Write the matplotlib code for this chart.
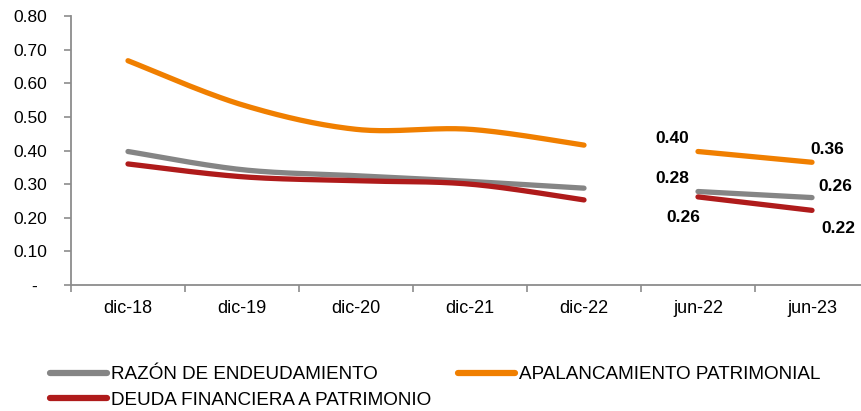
import numpy as np
import matplotlib
matplotlib.use("Agg")
import matplotlib.pyplot as plt
from matplotlib.ticker import FixedLocator

plt.rcParams['font.family'] = ['Liberation Sans', 'DejaVu Sans']

categories = ["dic-18", "dic-19", "dic-20", "dic-21", "dic-22", "jun-22", "jun-23"]
annual_idx = [0, 1, 2, 3, 4]
semi_idx = [5, 6]

razon_annual = [0.397, 0.343, 0.325, 0.308, 0.288]
apal_annual = [0.667, 0.536, 0.463, 0.463, 0.416]
deuda_annual = [0.360, 0.322, 0.310, 0.300, 0.253]

razon_semi = [0.278, 0.260]
apal_semi = [0.397, 0.365]
deuda_semi = [0.262, 0.222]

yticks = [0, 0.1, 0.2, 0.3, 0.4, 0.5, 0.6, 0.7, 0.8]
ytick_labels = ["-  ", "0.10", "0.20", "0.30", "0.40", "0.50", "0.60", "0.70", "0.80"]

series_names = ["RAZÓN DE ENDEUDAMIENTO", "APALANCAMIENTO PATRIMONIAL", "DEUDA FINANCIERA A PATRIMONIO"]
colors = ["#858585", "#F07F00", "#AF1B1B"]


def smooth(xs, ys, n=40):
    xs = np.asarray(xs, float)
    ys = np.asarray(ys, float)
    if len(xs) < 3:
        return xs, ys
    px = np.concatenate([[xs[0]], xs, [xs[-1]]])
    py = np.concatenate([[ys[0]], ys, [ys[-1]]])
    ox, oy = [], []
    for i in range(1, len(px) - 2):
        p0x, p1x, p2x, p3x = px[i - 1], px[i], px[i + 1], px[i + 2]
        p0y, p1y, p2y, p3y = py[i - 1], py[i], py[i + 1], py[i + 2]
        c1x = p1x + (p2x - p0x) / 6
        c1y = p1y + (p2y - p0y) / 6
        c2x = p2x - (p3x - p1x) / 6
        c2y = p2y - (p3y - p1y) / 6
        t = np.linspace(0, 1, n)
        bx = (1 - t) ** 3 * p1x + 3 * (1 - t) ** 2 * t * c1x + 3 * (1 - t) * t ** 2 * c2x + t ** 3 * p2x
        by = (1 - t) ** 3 * p1y + 3 * (1 - t) ** 2 * t * c1y + 3 * (1 - t) * t ** 2 * c2y + t ** 3 * p2y
        ox.extend(bx)
        oy.extend(by)
    return np.array(ox), np.array(oy)


fig = plt.figure(figsize=(8.61, 4.11), dpi=100)
ax = fig.add_axes([71 / 861, (411 - 285) / 411, (869 - 71) / 861, (285 - 16) / 411])

annual = [razon_annual, apal_annual, deuda_annual]
semi = [razon_semi, apal_semi, deuda_semi]
lw = 3.8
handles = []
for name, col, a, s in zip(series_names, colors, annual, semi):
    sx, sy = smooth(annual_idx, a)
    h, = ax.plot(sx, sy, color=col, lw=lw, solid_capstyle='round', label=name)
    ax.plot(semi_idx, s, color=col, lw=lw, solid_capstyle='round')
    handles.append(h)

# data labels for semiannual points
lab_kw = dict(fontsize=12.5, fontweight='bold', color='black', ha='center', va='center',
              textcoords='offset pixels')
ax.annotate(f"{apal_semi[0]:.2f}", (semi_idx[0], apal_semi[0]), xytext=(-26, 13), **lab_kw)
ax.annotate(f"{apal_semi[1]:.2f}", (semi_idx[1], apal_semi[1]), xytext=(15, 12.5), **lab_kw)
ax.annotate(f"{razon_semi[0]:.2f}", (semi_idx[0], razon_semi[0]), xytext=(-26, 13), **lab_kw)
ax.annotate(f"{razon_semi[1]:.2f}", (semi_idx[1], razon_semi[1]), xytext=(23, 11), **lab_kw)
ax.annotate(f"{deuda_semi[0]:.2f}", (semi_idx[0], deuda_semi[0]), xytext=(-15, -21), **lab_kw)
ax.annotate(f"{deuda_semi[1]:.2f}", (semi_idx[1], deuda_semi[1]), xytext=(26, -18), **lab_kw)

ax.set_xlim(-0.5, len(categories) - 0.5)
ax.set_ylim(0, 0.8)
ax.set_yticks(yticks)
ax.set_yticklabels(ytick_labels)
ax.set_xticks(range(len(categories)))
ax.set_xticklabels(categories)
ax.xaxis.set_minor_locator(FixedLocator(np.arange(-0.5, len(categories), 1.0)))

for sp in ["top", "right"]:
    ax.spines[sp].set_visible(False)
for sp in ["left", "bottom"]:
    ax.spines[sp].set_color("#8C8C8C")
    ax.spines[sp].set_linewidth(1.3)

ax.tick_params(axis='y', length=5, width=1.2, color="#8C8C8C", labelsize=12.5, pad=12, labelcolor='black')
ax.tick_params(axis='x', which='major', length=0, labelsize=13, pad=11, labelcolor='black')
ax.tick_params(axis='x', which='minor', length=5, width=1.2, color="#8C8C8C")

order = [handles[0], handles[2], handles[1]]
leg = fig.legend(order, [h.get_label() for h in order], loc='upper left',
                 bbox_to_anchor=(50 / 861, 1 - 366 / 411), ncol=2,
                 frameon=False, fontsize=13.6, handlelength=3.0, handletextpad=0.22,
                 columnspacing=1.45, labelspacing=0.45, borderaxespad=0, borderpad=0)
for line in leg.get_lines():
    line.set_linewidth(4.5)
    line.set_solid_capstyle('round')

fig.savefig("out.png", dpi=100)
